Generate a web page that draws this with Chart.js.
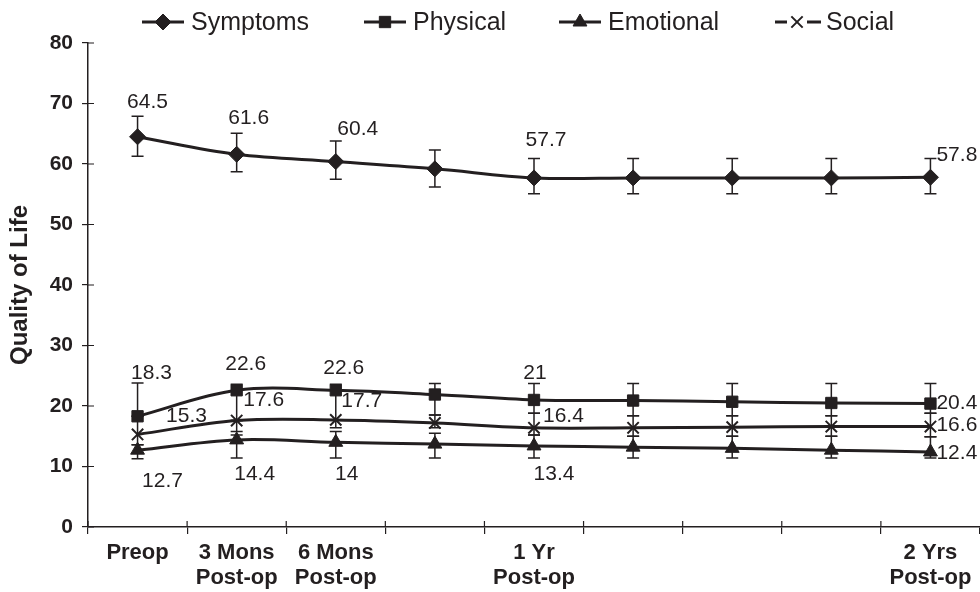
<!DOCTYPE html>
<html lang="en">
<head>
    <title>Quality of Life</title>
    <meta charset="utf-8">
    <script src="https://cdn.jsdelivr.net/npm/chart.js"></script>
    <style>
        html, body { margin: 0; padding: 0; background: #fff; }
        #wrap { width: 980px; height: 592px; }
    </style>
</head>
<body>
    <div id="wrap"><canvas id="qolChart" width="980" height="592"></canvas></div>

    <script>
        var timepoints = ['Preop', ['3 Mons', 'Post-op'], ['6 Mons', 'Post-op'], '', ['1 Yr', 'Post-op'], '', '', '', ['2 Yrs', 'Post-op']];

        var symptoms     = [64.5, 61.6, 60.4, 59.2, 57.7, 57.7, 57.7, 57.7, 57.8];
        var symptomsHigh = [67.9, 65.1, 63.8, 62.3, 60.9, 60.9, 60.9, 60.9, 60.9];
        var symptomsLow  = [61.3, 58.7, 57.5, 56.2, 55.1, 55.1, 55.1, 55.1, 55.1];

        var physical     = [18.3, 22.6, 22.6, 21.9, 21.0, 20.9, 20.7, 20.5, 20.4];
        var physicalHigh = [23.8, 23.6, 23.6, 23.7, 23.7, 23.7, 23.7, 23.7, 23.7];
        var physicalLow  = [18.3, 17.6, 17.7, 18.5, 18.8, 18.4, 18.4, 18.4, 18.8];

        var emotional     = [12.7, 14.4, 14.0, 13.7, 13.4, 13.2, 13.0, 12.7, 12.4];
        var emotionalHigh = [13.6, 15.2, 15.8, 15.5, 15.2, 15.0, 15.0, 15.0, 14.9];
        var emotionalLow  = [11.3, 11.4, 11.4, 11.4, 11.4, 11.4, 11.4, 11.4, 11.4];

        var social     = [15.3, 17.6, 17.7, 17.2, 16.4, 16.4, 16.5, 16.6, 16.6];
        var socialHigh = [18.3, 17.6, 17.7, 18.5, 18.8, 18.4, 18.4, 18.4, 18.8];
        var socialLow  = [13.6, 15.8, 16.4, 16.4, 15.2, 15.0, 15.0, 15.0, 14.9];

        var yMin = 0, yMax = 80, yStep = 10;
        var yTitle = 'Quality of Life';

        var ink = '#231f20';
        var sans = '"Liberation Sans", Arial, sans-serif';

        // where the value labels sit relative to their point: [index, dx, dy, align]
        var symptomsLabelSpots  = [[0, 10, -35, 'center'], [1, 12, -36, 'center'], [2, 22, -32, 'center'], [4, 12, -38, 'center'], [8, 6, -22, 'left']];
        var physicalLabelSpots  = [[0, 14, -43, 'center'], [1, 9, -26, 'center'], [2, 8, -22, 'center'], [4, 1, -27, 'center'], [8, 6, 0, 'left']];
        var emotionalLabelSpots = [[0, 25, 31, 'center'], [1, 18, 34, 'center'], [2, 11, 32, 'center'], [4, 20, 28, 'center'], [8, 6, 1, 'left']];
        var socialLabelSpots    = [[0, 49, -18, 'center'], [1, 27, -20, 'center'], [2, 26, -19, 'center'], [4, 9, -12, 'left'], [8, 6, -1, 'left']];

        function series(label, data, hi, lo, style, spots) {
            return {
                label: label,
                data: data,
                errHigh: hi,
                errLow: lo,
                valueSpots: spots,
                borderColor: ink,
                borderWidth: 3,
                tension: 0.35,
                pointStyle: style,
                pointRadius: 8,
                pointHoverRadius: 8,
                pointBackgroundColor: ink,
                pointBorderColor: ink,
                pointBorderWidth: style === 'crossRot' ? 2 : 1
            };
        }

        var errorBars = {
            id: 'errorBars',
            beforeDatasetsDraw: function (chart) {
                var ctx = chart.ctx, ys = chart.scales.y;
                ctx.save();
                ctx.strokeStyle = ink;
                ctx.lineWidth = 1.5;
                chart.data.datasets.forEach(function (ds, di) {
                    chart.getDatasetMeta(di).data.forEach(function (pt, i) {
                        var yh = ys.getPixelForValue(ds.errHigh[i]);
                        var yl = ys.getPixelForValue(ds.errLow[i]);
                        ctx.beginPath();
                        ctx.moveTo(pt.x, yh); ctx.lineTo(pt.x, yl);
                        ctx.moveTo(pt.x - 6, yh); ctx.lineTo(pt.x + 6, yh);
                        ctx.moveTo(pt.x - 6, yl); ctx.lineTo(pt.x + 6, yl);
                        ctx.stroke();
                    });
                });
                ctx.restore();
            }
        };

        var valueLabels = {
            id: 'valueLabels',
            afterDatasetsDraw: function (chart) {
                var ctx = chart.ctx;
                ctx.save();
                ctx.fillStyle = ink;
                ctx.font = '21px ' + sans;
                ctx.textBaseline = 'middle';
                chart.data.datasets.forEach(function (ds, di) {
                    var pts = chart.getDatasetMeta(di).data;
                    ds.valueSpots.forEach(function (s) {
                        var pt = pts[s[0]];
                        ctx.textAlign = s[3];
                        ctx.fillText(String(ds.data[s[0]]), pt.x + s[1], pt.y + s[2]);
                    });
                });
                ctx.restore();
            }
        };

        // ticks that cross the axis lines, plus the rotated y title
        var axisExtras = {
            id: 'axisExtras',
            afterDraw: function (chart) {
                var ctx = chart.ctx, a = chart.chartArea, ys = chart.scales.y;
                ctx.save();
                ctx.strokeStyle = ink;
                ctx.lineWidth = 1.2;
                ctx.beginPath();
                ys.ticks.forEach(function (t) {
                    var y = ys.getPixelForValue(t.value);
                    ctx.moveTo(a.left, y); ctx.lineTo(a.left + 6, y);
                });
                var w = (a.right - a.left) / timepoints.length;
                for (var k = 0; k < timepoints.length; k++) {
                    var x = a.left + k * w;
                    ctx.moveTo(x, a.bottom); ctx.lineTo(x, a.bottom - 6);
                }
                ctx.stroke();

                ctx.translate(20, (a.top + a.bottom) / 2);
                ctx.rotate(-Math.PI / 2);
                ctx.fillStyle = ink;
                ctx.font = 'bold 24px ' + sans;
                ctx.textAlign = 'center';
                ctx.textBaseline = 'middle';
                ctx.fillText(yTitle, 0, 0);
                ctx.restore();
            }
        };

        var lineLegend = {
            id: 'lineLegend',
            afterDraw: function (chart) {
                var ctx = chart.ctx;
                var starts = [142, 364, 559, 775];
                var y = 22;
                ctx.save();
                chart.data.datasets.forEach(function (ds, i) {
                    var x0 = starts[i];
                    ctx.strokeStyle = ink;
                    ctx.lineWidth = 3;
                    ctx.beginPath();
                    if (ds.pointStyle === 'crossRot') {
                        ctx.moveTo(x0, y); ctx.lineTo(x0 + 12, y);
                        ctx.moveTo(x0 + 32, y); ctx.lineTo(x0 + 46, y);
                    } else {
                        ctx.moveTo(x0, y); ctx.lineTo(x0 + 42, y);
                    }
                    ctx.stroke();
                    ctx.fillStyle = ink;
                    ctx.lineWidth = ds.pointBorderWidth;
                    if (Chart.helpers && Chart.helpers.drawPoint) {
                        var mx = ds.pointStyle === 'crossRot' ? x0 + 22 : x0 + 21;
                        Chart.helpers.drawPoint(ctx, { pointStyle: ds.pointStyle, radius: 8, borderWidth: ds.pointBorderWidth }, mx, y);
                    }
                    ctx.font = '25px ' + sans;
                    ctx.textAlign = 'left';
                    ctx.textBaseline = 'middle';
                    ctx.fillText(ds.label, x0 + (ds.pointStyle === 'crossRot' ? 51 : 49), y + 1);
                });
                ctx.restore();
            }
        };

        var qolChart = new Chart(document.getElementById('qolChart').getContext('2d'), {
            type: 'line',
            data: {
                labels: timepoints,
                datasets: [
                    series('Symptoms', symptoms, symptomsHigh, symptomsLow, 'rectRot', symptomsLabelSpots),
                    series('Physical', physical, physicalHigh, physicalLow, 'rect', physicalLabelSpots),
                    series('Emotional', emotional, emotionalHigh, emotionalLow, 'triangle', emotionalLabelSpots),
                    series('Social', social, socialHigh, socialLow, 'crossRot', socialLabelSpots)
                ]
            },
            options: {
                responsive: false,
                animation: false,
                layout: { autoPadding: false, padding: { top: 43, right: 0, bottom: 0, left: 0 } },
                plugins: {
                    legend: { display: false },
                    tooltip: { enabled: false }
                },
                scales: {
                    x: {
                        offset: true,
                        afterFit: function (scale) {
                            scale.height = 65;
                            scale.paddingLeft = 0;
                            scale.paddingRight = 0;
                        },
                        grid: { offset: true, drawOnChartArea: false, tickLength: 7, color: ink, lineWidth: 1.2 },
                        border: { color: ink, width: 1.5 },
                        ticks: {
                            color: ink,
                            maxRotation: 0,
                            autoSkip: false,
                            padding: 6,
                            font: { family: sans, size: 22, weight: 'bold', lineHeight: 1.15 }
                        }
                    },
                    y: {
                        min: yMin,
                        max: yMax,
                        afterFit: function (scale) { scale.width = 88; },
                        grid: { drawOnChartArea: false, tickLength: 6, color: ink, lineWidth: 1.2 },
                        border: { color: ink, width: 1.5 },
                        ticks: {
                            stepSize: yStep,
                            color: ink,
                            padding: 9,
                            font: { family: sans, size: 21, weight: 'bold' }
                        }
                    }
                }
            },
            plugins: [errorBars, valueLabels, axisExtras, lineLegend]
        });
    </script>
</body>
</html>
